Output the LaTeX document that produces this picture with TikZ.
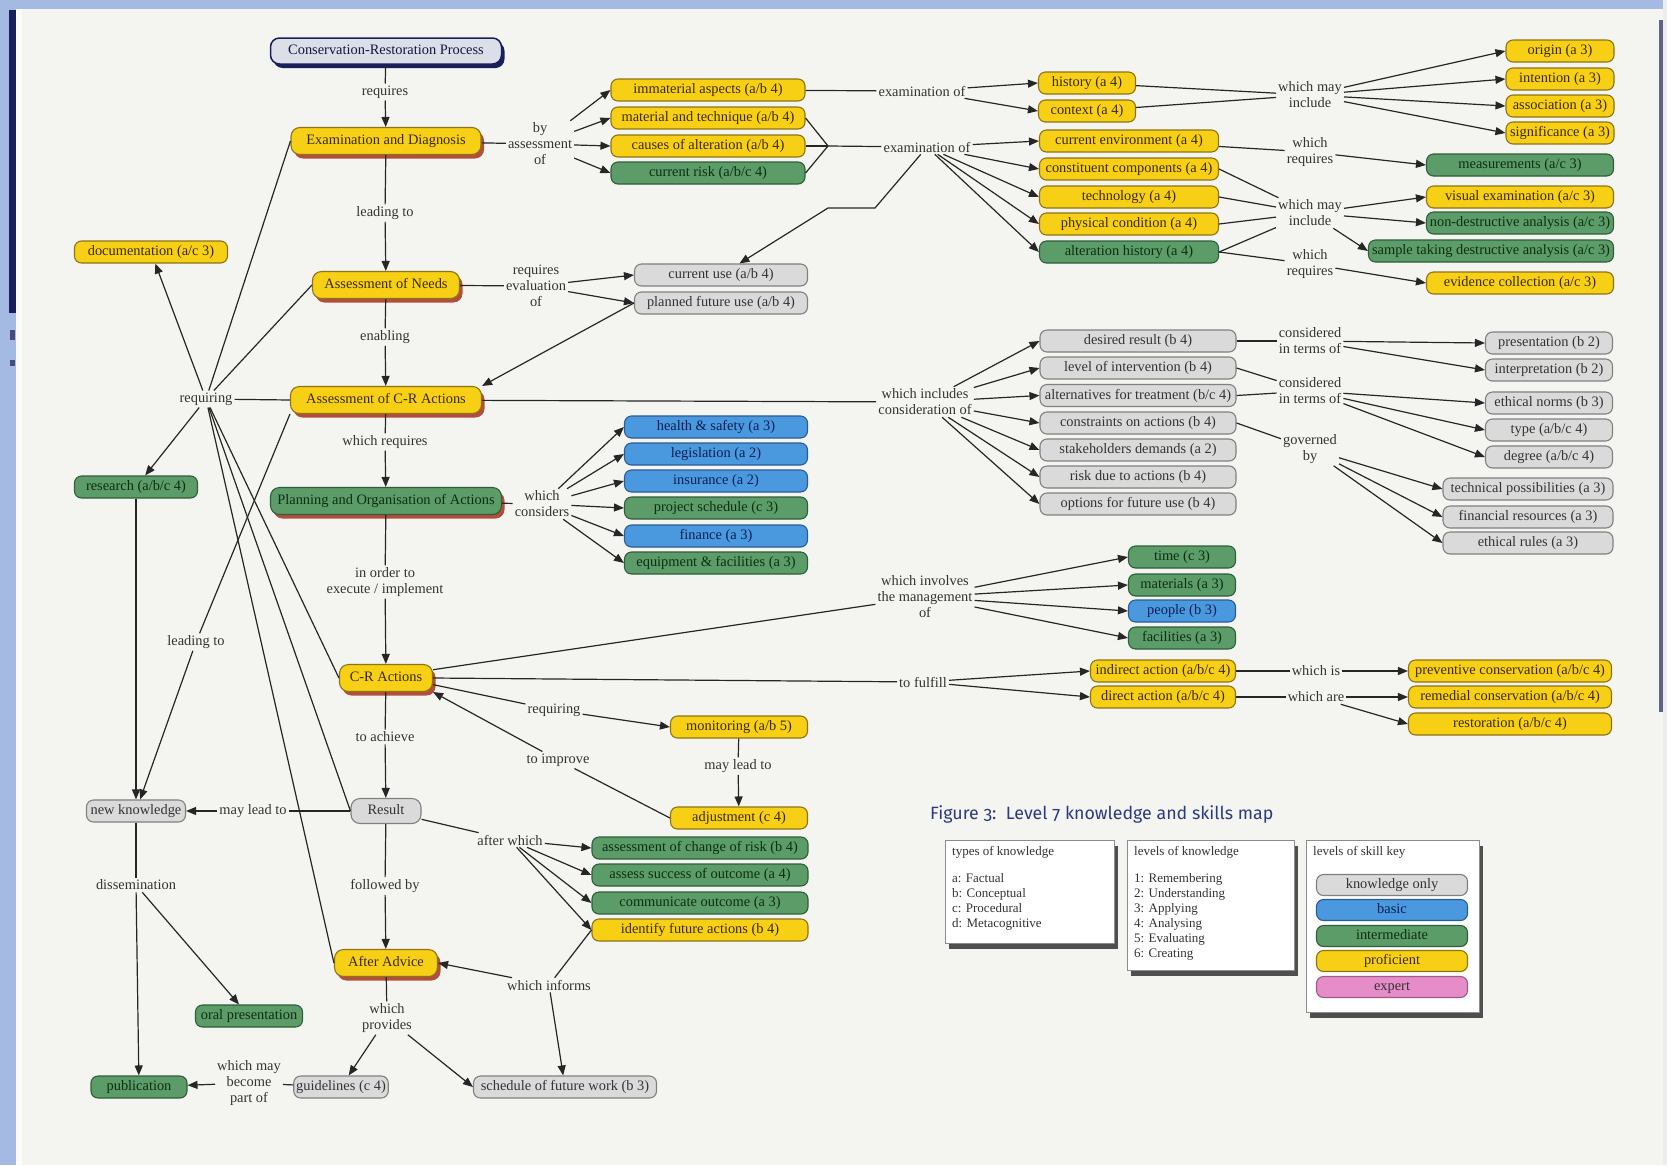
\documentclass[tikz,border=0pt]{standalone}
\usepackage{fontspec}
\setmainfont{Liberation Serif}
\newfontfamily\titlefont[Numbers=OldStyle]{Fira Sans}
\usetikzlibrary{arrows.meta,shadows,calc}
\definecolor{cYel}{HTML}{F7CF14}
\definecolor{cYelD}{HTML}{8C7418}
\definecolor{cYelT}{HTML}{3A2A05}
\definecolor{cGrn}{HTML}{5B9C69}
\definecolor{cGrnD}{HTML}{2F5E3A}
\definecolor{cGrnT}{HTML}{0E2E12}
\definecolor{cBlu}{HTML}{4A98DE}
\definecolor{cBluD}{HTML}{2A5C96}
\definecolor{cBluT}{HTML}{0D1E55}
\definecolor{cGry}{HTML}{DADADA}
\definecolor{cGryD}{HTML}{808080}
\definecolor{cGryT}{HTML}{333333}
\definecolor{cPnk}{HTML}{E68CC8}
\definecolor{cPnkD}{HTML}{A05A8A}
\definecolor{cShd}{HTML}{A8321E}
\definecolor{cNavy}{HTML}{1A1F5C}
\definecolor{cCrp}{HTML}{DCDFE8}
\definecolor{cPage}{HTML}{F4F4F0}
\definecolor{cMargin}{HTML}{A4BAE3}
\definecolor{cLine}{HTML}{262626}
\definecolor{cLbl}{HTML}{333333}
\definecolor{cTitle}{HTML}{2B3A80}
\tikzset{
  base/.style={rounded corners=7pt, line width=1.1pt, minimum height=22pt, inner xsep=2.5pt, inner ysep=1pt,
    font=\fontsize{14.4}{16}\selectfont, text height=10pt, text depth=3pt},
  yel/.style={base, fill=cYel, draw=cYelD, text=cYelT},
  grn/.style={base, fill=cGrn, draw=cGrnD, text=cGrnT},
  blu/.style={base, fill=cBlu, draw=cBluD, text=cBluT},
  gry/.style={base, fill=cGry, draw=cGryD, text=cGryT},
  pnk/.style={base, fill=cPnk, draw=cPnkD, text=cGryT},
  spine/.style={minimum height=27pt, rounded corners=9pt, general shadow={fill=cShd, shadow xshift=3pt, shadow yshift=-4pt, opacity=0.85}},
  crpbox/.style={base, fill=cCrp, draw=cNavy, line width=1.5pt, text=cNavy!70!black, minimum height=26pt, rounded corners=9pt,
    general shadow={fill=cNavy, shadow xshift=3pt, shadow yshift=-4pt}},
  lbl/.style={font=\fontsize{14.4}{16}\selectfont, text=cLbl, inner sep=2pt, align=center},
  ln/.style={draw=cLine, line width=1.2pt},
  ar/.style={ln, -{Triangle[length=10pt,width=8pt]}},
  legbox/.style={draw=black!45, fill=white, line width=0.6pt, general shadow={fill=black!80, shadow xshift=4pt, shadow yshift=-6pt, opacity=0.85}},
  legtxt/.style={font=\fontsize{13}{15}\selectfont, text=black!80, align=left, inner sep=0pt, anchor=north west}
}
\begin{document}
\begin{tikzpicture}[x=1pt,y=-1pt]
\useasboundingbox (0,0) rectangle (1667,1165);
% background
\fill[cMargin] (0,0) rectangle (1667,1165);
\fill[cPage] (20,9) rectangle (1667,1165);
\fill[white!60!cPage] (16,9) rectangle (22,1165);
\fill[cNavy] (9,10) rectangle (16,313);
\fill[cNavy!80] (10,330) rectangle (15,340);
\fill[cNavy!80] (10,360) rectangle (15,366);
\fill[cNavy!70] (1659,20) rectangle (1663,712);
\fill[black!7] (1663,0) rectangle (1667,1165);

% ---------- spine ----------
\node[crpbox, minimum width=231pt] (crp) at (386,51) {Conservation-Restoration Process};
\node[lbl] (lreq) at (385,92) {requires};
\node[yel, spine, minimum width=190pt] (exdi) at (386,141) {Examination and Diagnosis};
\node[lbl] (llead) at (385,213) {leading to};
\node[yel, spine, minimum width=147pt] (an) at (386,285) {Assessment of Needs};
\node[lbl] (lenab) at (385,337) {enabling};
\node[yel, spine, minimum width=191pt] (acr) at (386,400) {Assessment of C-R Actions};
\node[lbl] (lwreq) at (385,442) {which requires};
\node[grn, spine, minimum width=231pt] (plan) at (386,501) {Planning and Organisation of Actions};
\node[lbl] (lord) at (385,582) {in order to\\execute / implement};
\node[yel, spine, minimum width=93pt] (cra) at (386,678) {C-R Actions};
\node[lbl] (lach) at (385,737) {to achieve};
\node[gry, minimum width=70pt, minimum height=25pt, rounded corners=9pt] (res) at (386,811) {Result};
\node[lbl] (lfol) at (385,886) {followed by};
\node[yel, spine, minimum width=103pt] (aa) at (386,963) {After Advice};
\node[lbl] (lprov) at (387,1018) {which\\provides};
\node[gry, minimum width=84pt] (guid) at (341,1087) {guidelines (c 4)};
\node[gry, minimum width=183pt] (sched) at (565,1087) {schedule of future work (b 3)};
\node[lbl] (lbec) at (249,1083) {which may\\become\\part of};
\node[grn, minimum width=96pt] (pub) at (139,1087) {publication};
\node[grn, minimum width=107pt] (oral) at (249,1016) {oral presentation};
\node[lbl] (ldis) at (136,885) {dissemination};
\node[gry, minimum width=99pt] (nk) at (136,811) {new knowledge};
\node[lbl] (lmlt) at (253,811) {may lead to};
\node[grn, minimum width=123pt] (rsch) at (136,487) {research (a/b/c 4)};
\node[yel, minimum width=153pt] (doc) at (151,252) {documentation (a/c 3)};
\node[lbl] (lrq) at (206,399) {requiring};
\node[lbl] (llt) at (196,642) {leading to};

% ---------- examination branch ----------
\node[lbl] (lbya) at (540,144) {by\\assessment\\of};
\node[yel, minimum width=194pt] (imm) at (708,90) {immaterial aspects (a/b 4)};
\node[yel, minimum width=194pt] (mat) at (708,118) {material and technique (a/b 4)};
\node[yel, minimum width=194pt] (cau) at (708,146) {causes of alteration (a/b 4)};
\node[grn, minimum width=194pt] (crisk) at (708,173) {current risk (a/b/c 4)};
\node[lbl] (lex1) at (922,91) {examination of};
\node[lbl] (lex2) at (927,147) {examination of};
\coordinate (jn1) at (828,146);
\coordinate (bend1) at (875,208);
\coordinate (bend2) at (828,208);
\node[yel, minimum width=97pt] (hist) at (1087,83) {history (a 4)};
\node[yel, minimum width=97pt] (ctx) at (1087,111) {context (a 4)};
\node[lbl] (lwmi1) at (1310,95) {which may\\include};
\node[yel, minimum width=108pt] (orig) at (1560,51) {origin (a 3)};
\node[yel, minimum width=108pt] (inten) at (1560,79) {intention (a 3)};
\node[yel, minimum width=108pt] (assoc) at (1560,106) {association (a 3)};
\node[yel, minimum width=108pt] (signif) at (1560,133) {significance (a 3)};
\node[yel, minimum width=179pt] (cenv) at (1129,141) {current environment (a 4)};
\node[yel, minimum width=179pt] (ccomp) at (1129,169) {constituent components (a 4)};
\node[yel, minimum width=179pt] (tech) at (1129,197) {technology (a 4)};
\node[yel, minimum width=179pt] (phys) at (1129,224) {physical condition (a 4)};
\node[grn, minimum width=179pt] (ahist) at (1129,252) {alteration history (a 4)};
\node[lbl] (lwr1) at (1310,152) {which\\requires};
\node[lbl] (lwmi2) at (1310,213) {which may\\include};
\node[lbl] (lwr2) at (1310,264) {which\\requires};
\node[grn, minimum width=187pt] (meas) at (1520,165) {measurements (a/c 3)};
\node[yel, minimum width=187pt] (vis) at (1520,197) {visual examination (a/c 3)};
\node[grn, minimum width=187pt] (ndes) at (1520,223) {non-destructive analysis (a/c 3)};
\node[grn, minimum width=245pt] (samp) at (1491,251) {sample taking destructive analysis (a/c 3)};
\node[yel, minimum width=187pt] (evid) at (1520,283) {evidence collection (a/c 3)};

% ---------- needs ----------
\node[lbl] (lrev) at (536,286) {requires\\evaluation\\of};
\node[gry, minimum width=173pt] (cu) at (721,275) {current use (a/b 4)};
\node[gry, minimum width=173pt] (pfu) at (721,303) {planned future use (a/b 4)};

% ---------- consideration ----------
\node[lbl] (lwic) at (925,402) {which includes\\consideration of};
\node[gry, minimum width=196pt] (dres) at (1138,341) {desired result (b 4)};
\node[gry, minimum width=196pt] (lint) at (1138,368) {level of intervention (b 4)};
\node[gry, minimum width=196pt] (alt) at (1138,395.5) {alternatives for treatment (b/c 4)};
\node[gry, minimum width=196pt] (cons) at (1138,423) {constraints on actions (b 4)};
\node[gry, minimum width=196pt] (stak) at (1138,450) {stakeholders demands (a 2)};
\node[gry, minimum width=196pt] (rda) at (1138,477) {risk due to actions (b 4)};
\node[gry, minimum width=196pt] (opt) at (1138,504) {options for future use (b 4)};
\node[lbl] (lcit1) at (1310,341) {considered\\in terms of};
\node[lbl] (lcit2) at (1310,391) {considered\\in terms of};
\node[lbl] (lgov) at (1310,449) {governed\\by};
\node[gry, minimum width=127pt] (pres) at (1549,343) {presentation (b 2)};
\node[gry, minimum width=127pt] (interp) at (1549,370) {interpretation (b 2)};
\node[gry, minimum width=127pt] (enorm) at (1549,403) {ethical norms (b 3)};
\node[gry, minimum width=127pt] (type) at (1549,430) {type (a/b/c 4)};
\node[gry, minimum width=127pt] (degr) at (1549,457) {degree (a/b/c 4)};
\node[gry, minimum width=170pt] (tpos) at (1528,489) {technical possibilities (a 3)};
\node[gry, minimum width=170pt] (fres) at (1528,517) {financial resources (a 3)};
\node[gry, minimum width=170pt] (erul) at (1528,543) {ethical rules (a 3)};

% ---------- planning ----------
\node[lbl] (lwc) at (542,504) {which\\considers};
\node[blu, minimum width=183pt] (hs) at (716,427) {health \& safety (a 3)};
\node[blu, minimum width=183pt] (legi) at (716,454) {legislation (a 2)};
\node[blu, minimum width=183pt] (insu) at (716,481) {insurance (a 2)};
\node[grn, minimum width=183pt] (psch) at (716,508) {project schedule (c 3)};
\node[blu, minimum width=183pt] (fin) at (716,536) {finance (a 3)};
\node[grn, minimum width=183pt] (equ) at (716,563) {equipment \& facilities (a 3)};

% ---------- C-R actions ----------
\node[lbl] (linv) at (925,597) {which involves\\the management\\of};
\node[grn, minimum width=107pt] (time) at (1182,557) {time (c 3)};
\node[grn, minimum width=107pt] (mats) at (1182,585) {materials (a 3)};
\node[blu, minimum width=107pt] (ppl) at (1182,611) {people (b 3)};
\node[grn, minimum width=107pt] (fac) at (1182,638) {facilities (a 3)};
\node[lbl] (lful) at (923,682) {to fulfill};
\node[yel, minimum width=145pt] (indir) at (1163,671) {indirect action (a/b/c 4)};
\node[yel, minimum width=145pt] (dir) at (1163,697) {direct action (a/b/c 4)};
\node[lbl] (lwis) at (1316,671) {which is};
\node[lbl] (lwat) at (1316,697) {which are};
\node[yel, minimum width=203pt] (prev) at (1510,671) {preventive conservation (a/b/c 4)};
\node[yel, minimum width=203pt] (rem) at (1510,697) {remedial conservation (a/b/c 4)};
\node[yel, minimum width=203pt] (rest) at (1510,724) {restoration (a/b/c 4)};

% ---------- monitoring / results ----------
\node[lbl] (lrq2) at (554,710) {requiring};
\node[yel, minimum width=137pt] (mon) at (739,727) {monitoring (a/b 5)};
\node[lbl] (lmlt2) at (738,766) {may lead to};
\node[yel, minimum width=137pt] (adj) at (739,818) {adjustment (c 4)};
\node[lbl] (limp) at (558,760) {to improve};
\node[lbl] (law) at (510,840) {after which};
\node[grn, minimum width=216pt] (acrk) at (700,848) {assessment of change of risk (b 4)};
\node[grn, minimum width=216pt] (ass) at (700,875) {assess success of outcome (a 4)};
\node[grn, minimum width=216pt] (comm) at (700,903) {communicate outcome (a 3)};
\node[yel, minimum width=216pt] (ifa) at (700,930) {identify future actions (b 4)};
\node[lbl] (linf) at (549,985) {which informs};

% ---------- legend ----------
\node[anchor=west, font=\titlefont\fontsize{17.8}{19}\selectfont, text=cTitle, inner sep=0pt] (title) at (930,814) {Figure 3:\ \ Level 7 knowledge and skills map};
\node[legbox, minimum width=169pt, minimum height=103pt] (lb1) at (1029.5,891.5) {};
\node[legbox, minimum width=167pt, minimum height=130pt] (lb2) at (1210.5,905) {};
\node[legbox, minimum width=173pt, minimum height=172pt] (lb3) at (1392.5,926) {};
\node[legtxt] (lt1) at (952,846) {types of knowledge\\[12pt]a: Factual\\b: Conceptual\\c: Procedural\\d: Metacognitive};
\node[legtxt] (lt2) at (1134,846) {levels of knowledge\\[12pt]1: Remembering\\2: Understanding\\3: Applying\\4: Analysing\\5: Evaluating\\6: Creating};
\node[legtxt] (lt3) at (1313,846) {levels of skill key};
\node[gry, minimum width=151pt, minimum height=21pt] (key1) at (1392,885) {knowledge only};
\node[blu, minimum width=151pt, minimum height=21pt] (key2) at (1392,910) {basic};
\node[grn, minimum width=151pt, minimum height=21pt] (key3) at (1392,936) {intermediate};
\node[yel, minimum width=151pt, minimum height=21pt] (key4) at (1392,961) {proficient};
\node[pnk, minimum width=151pt, minimum height=21pt] (key5) at (1392,987) {expert};

% ---------- connectors: spine ----------
\draw[ln] (crp) -- (lreq); \draw[ar] (lreq) -- (exdi);
\draw[ln] (exdi) -- (llead); \draw[ar] (llead) -- (an);
\draw[ln] (an) -- (lenab); \draw[ar] (lenab) -- (acr);
\draw[ln] (acr) -- (lwreq); \draw[ar] (lwreq) -- (plan);
\draw[ln] (plan) -- (lord); \draw[ar] (lord) -- (cra);
\draw[ln] (cra) -- (lach); \draw[ar] (lach) -- (res);
\draw[ln] (res) -- (lfol); \draw[ar] (lfol) -- (aa);
\draw[ln] (aa) -- (lprov); \draw[ar] (lprov) -- (guid); \draw[ar] (lprov) -- (sched.west);
\draw[ln] (guid) -- (lbec); \draw[ar] (lbec) -- (pub);
\draw[ln] (res) -- (lmlt); \draw[ar] (lmlt) -- (nk);
\draw[ln] (nk) -- (ldis); \draw[ar] (ldis) -- (pub); \draw[ar] (ldis) -- (oral);
% requiring hub
\draw[ln] (exdi.west) -- (lrq);
\draw[ln] (an.west) -- (lrq);
\draw[ln] (acr.west) -- (lrq);
\draw[ln] (cra.west) -- (lrq);
\draw[ln] (res.west) -- (lrq);
\draw[ln] (aa.west) -- (lrq);
\draw[ar] (lrq) -- (doc);
\draw[ar] (lrq) -- (rsch);
\draw[ln] (acr.south west) -- (llt); \draw[ar] (llt) -- (nk);
\draw[ar] (rsch) -- (nk);

% examination
\draw[ln] (exdi) -- (lbya);
\foreach \n in {imm,mat,cau,crisk} \draw[ar] (lbya) -- (\n.west);
\draw[ln] (imm) -- (lex1);
\draw[ar] (lex1) -- (hist.west); \draw[ar] (lex1) -- (ctx.west);
\draw[ln] (mat.east) -- (jn1); \draw[ln] (cau.east) -- (jn1); \draw[ln] (crisk.east) -- (jn1); \draw[ln] (jn1) -- (lex2);
\foreach \n in {cenv,ccomp,tech,phys,ahist} \draw[ar] (lex2) -- (\n.west);
\draw[ar] (lex2) -- (bend1) -- (bend2) -- (cu);
\draw[ln] (hist) -- (lwmi1); \draw[ln] (ctx) -- (lwmi1);
\foreach \n in {orig,inten,assoc,signif} \draw[ar] (lwmi1) -- (\n.west);
\draw[ln] (cenv) -- (lwr1); \draw[ar] (lwr1) -- (meas.west);
\foreach \n in {ccomp,tech,phys,ahist} \draw[ln] (\n.east) -- (lwmi2);
\foreach \n in {vis,ndes,samp} \draw[ar] (lwmi2) -- (\n.west);
\draw[ln] (ahist.east) -- (lwr2); \draw[ar] (lwr2) -- (evid.west);

% needs
\draw[ln] (an) -- (lrev); \draw[ar] (lrev) -- (cu.west); \draw[ar] (lrev) -- (pfu.west);
\draw[ar] (pfu.west) -- (acr.north east);

% consideration
\draw[ln] (acr) -- (lwic);
\foreach \n in {dres,lint,alt,cons,stak,rda,opt} \draw[ar] (lwic) -- (\n.west);
\draw[ln] (dres) -- (lcit1);
\draw[ar] (lcit1) -- (pres.west); \draw[ar] (lcit1) -- (interp.west);
\draw[ln] (lint.east) -- (lcit2); \draw[ln] (alt.east) -- (lcit2);
\foreach \n in {enorm,type,degr} \draw[ar] (lcit2) -- (\n.west);
\draw[ln] (cons.east) -- (lgov);
\foreach \n in {tpos,fres,erul} \draw[ar] (lgov) -- (\n.west);

% planning
\draw[ln] (plan) -- (lwc);
\foreach \n in {hs,legi,insu,psch,fin,equ} \draw[ar] (lwc) -- (\n.west);

% C-R actions
\draw[ln] (cra.10) -- (linv);
\foreach \n in {time,mats,ppl,fac} \draw[ar] (linv) -- (\n.west);
\draw[ln] (cra.east) -- (lful);
\draw[ar] (lful) -- (indir.west); \draw[ar] (lful) -- (dir.west);
\draw[ln] (indir) -- (lwis); \draw[ar] (lwis) -- (prev);
\draw[ln] (dir) -- (lwat); \draw[ar] (lwat) -- (rem.west); \draw[ar] (lwat) -- (rest.west);
\draw[ln] (cra.-8) -- (lrq2); \draw[ar] (lrq2) -- (mon.west);
\draw[ln] (mon) -- (lmlt2); \draw[ar] (lmlt2) -- (adj);
\draw[ln] (adj.west) -- (limp); \draw[ar] (limp) -- (cra.south east);
\draw[ln] (res) -- (law);
\foreach \n in {acrk,ass,comm,ifa} \draw[ar] (law) -- (\n.west);
\draw[ln] (ifa.west) -- (linf); \draw[ar] (linf) -- (aa.east); \draw[ar] (linf) -- (sched);
\end{tikzpicture}
\end{document}
